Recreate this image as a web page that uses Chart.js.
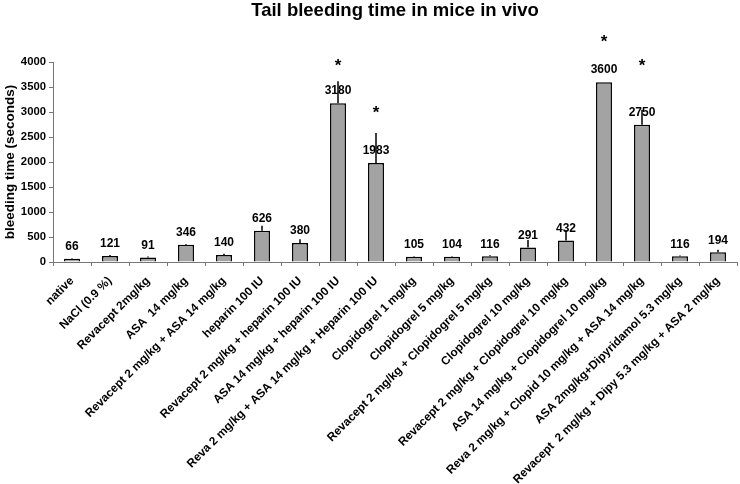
<!DOCTYPE html>
<html>
<head>
<meta charset="utf-8">
<script src="https://cdn.jsdelivr.net/npm/chart.js@4"></script>
<style>
  html, body { margin: 0; padding: 0; background: #fff; }
  #wrap { width: 740px; height: 484px; }
</style>
</head>
<body>
<div id="wrap"><canvas id="chart" width="740" height="484"></canvas></div>
<script>
// Data
const groups = [
    'native', 'NaCl (0.9 %)', 'Revacept 2mg/kg', 'ASA  14 mg/kg',
    'Revacept 2 mg/kg + ASA 14 mg/kg', 'heparin 100 IU',
    'Revacept 2 mg/kg + heparin 100 IU', 'ASA 14 mg/kg + heparin 100 IU',
    'Reva 2 mg/kg + ASA 14 mg/kg + Heparin 100 IU', 'Clopidogrel 1 mg/kg',
    'Clopidogrel 5 mg/kg', 'Revacept 2 mg/kg + Clopidogrel 5 mg/kg',
    'Clopidogrel 10 mg/kg', 'Revacept 2 mg/kg + Clopidogrel 10 mg/kg',
    'ASA 14 mg/kg + Clopidogrel 10 mg/kg', 'Reva 2 mg/kg + Clopid 10 mg/kg + ASA 14 mg/kg',
    'ASA 2mg/kg+Dipyridamol 5.3 mg/kg', 'Revacept  2 mg/kg + Dipy 5.3 mg/kg + ASA 2 mg/kg'
];
const bleedingTime = [66, 121, 91, 346, 140, 626, 380, 3180, 1983, 105, 104, 116, 291, 432, 3600, 2750, 116, 194];
const errorUp = [10, 20, 20, 15, 25, 100, 75, 440, 600, 10, 10, 20, 150, 210, 0, 300, 15, 50];
// asterisk positions, in seconds on the y scale (null = no asterisk)
const starAt = [null, null, null, null, null, null, null, 4000, 3050, null, null, null, null, null, 4480, 4000, null, null];
const yTicks = [0, 500, 1000, 1500, 2000, 2500, 3000, 3500, 4000];

const font = 'Arial, "Liberation Sans", sans-serif';

// error bars, value labels and asterisks
const extras = {
    id: 'extras',
    afterDatasetsDraw(chart) {
        const ctx = chart.ctx;
        const x = chart.scales.x, y = chart.scales.y;
        ctx.save();
        ctx.strokeStyle = '#000';
        ctx.lineWidth = 1.5;
        bleedingTime.forEach((v, i) => {
            const px = x.getPixelForValue(i);
            if (errorUp[i] > 0) {
                ctx.beginPath();
                ctx.moveTo(px, y.getPixelForValue(v));
                ctx.lineTo(px, y.getPixelForValue(v + errorUp[i]));
                ctx.stroke();
            }
        });
        ctx.fillStyle = '#000';
        ctx.textAlign = 'center';
        ctx.textBaseline = 'middle';
        ctx.font = 'bold 12px ' + font;
        bleedingTime.forEach((v, i) => {
            ctx.fillText(String(v), x.getPixelForValue(i), y.getPixelForValue(v) - 12);
        });
        ctx.font = 'bold 17px ' + font;
        starAt.forEach((s, i) => {
            if (s !== null) ctx.fillText('*', x.getPixelForValue(i), y.getPixelForValue(s) + 4);
        });
        ctx.restore();
    }
};

new Chart(document.getElementById('chart'), {
    type: 'bar',
    data: {
        labels: groups,
        datasets: [{
            data: bleedingTime,
            backgroundColor: '#a3a3a3',
            borderColor: '#000',
            borderWidth: 1.5,
            barPercentage: 0.42,
            categoryPercentage: 1
        }]
    },
    options: {
        responsive: false,
        animation: false,
        layout: { padding: { top: 0, right: 3, left: 0, bottom: 0 } },
        plugins: {
            legend: { display: false },
            tooltip: { enabled: false },
            title: {
                display: true,
                fullSize: false,
                text: 'Tail bleeding time in mice in vivo',
                color: '#000',
                font: { family: font, size: 18.5, weight: 'bold' },
                padding: { top: 0, bottom: 40 }
            }
        },
        scales: {
            x: {
                offset: true,
                border: { color: '#777', width: 1 },
                grid: { drawOnChartArea: false, drawTicks: true, tickLength: 4, color: '#777', offset: true },
                ticks: {
                    color: '#000',
                    autoSkip: false,
                    minRotation: 45,
                    maxRotation: 45,
                    padding: 8,
                    font: { family: font, size: 11.8, weight: 'bold' }
                },
                afterFit(scale) { scale.height = 222; }
            },
            y: {
                min: 0,
                max: 4000,
                border: { color: '#777', width: 1 },
                grid: { drawOnChartArea: false, drawTicks: true, tickLength: 4, color: '#777' },
                afterBuildTicks(scale) { scale.ticks = yTicks.map(v => ({ value: v })); },
                ticks: {
                    color: '#000',
                    padding: 3,
                    callback: v => String(v),
                    font: { family: font, size: 11.3, weight: 'bold' }
                },
                title: {
                    display: true,
                    text: 'bleeding time (seconds)',
                    color: '#000',
                    padding: 2,
                    font: { family: font, size: 13.5, weight: 'bold' }
                },
                afterFit(scale) { scale.width = 53; }
            }
        }
    },
    plugins: [extras]
});
</script>
</body>
</html>
